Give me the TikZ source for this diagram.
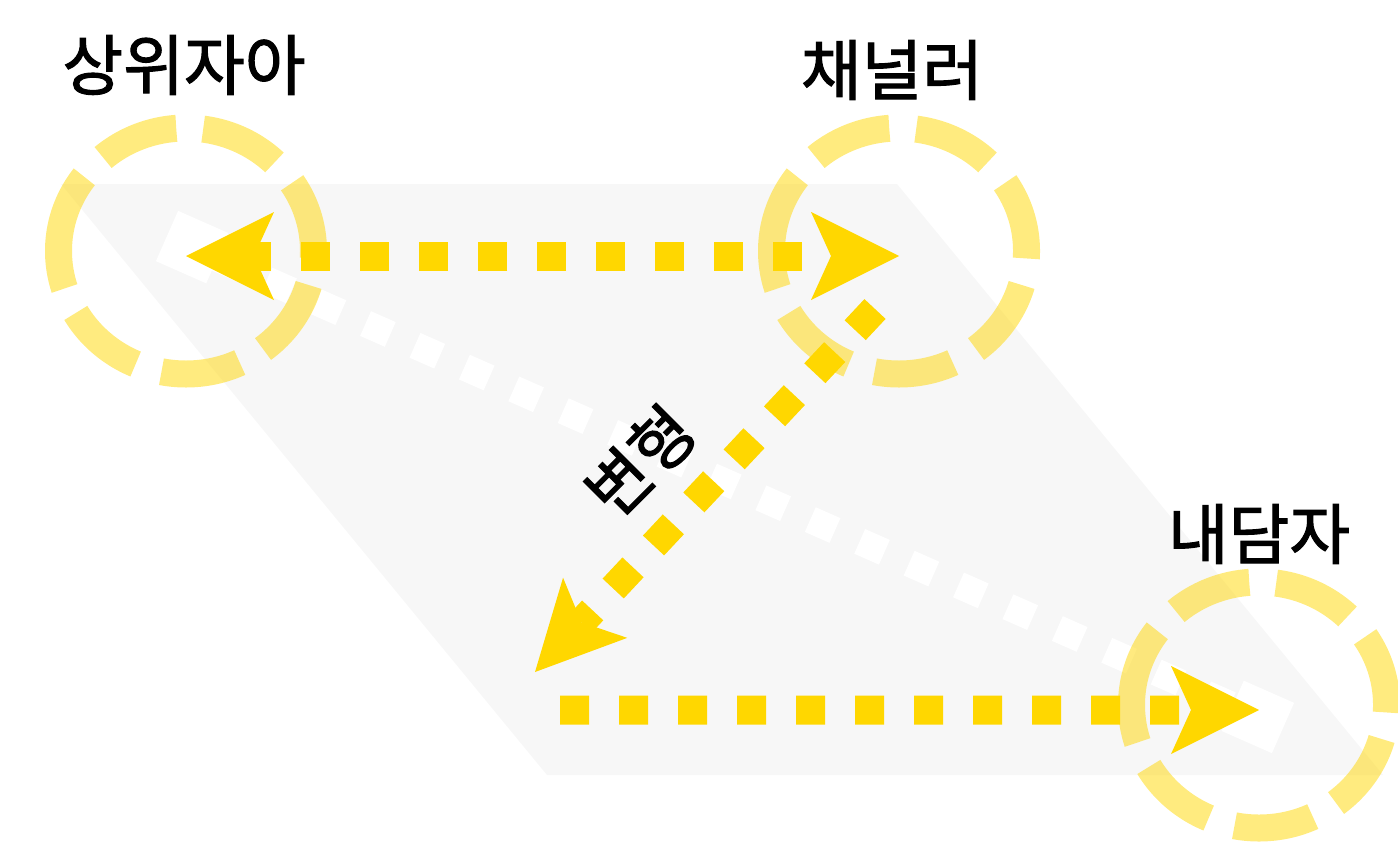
\documentclass[tikz,border=0pt]{standalone}
\usepackage{fontspec}
\setmainfont{Noto Sans CJK KR}
\newfontfamily\rolefont{Noto Sans CJK KR}[FakeBold=1.6]
\usetikzlibrary{positioning,arrows.meta,shapes.geometric,backgrounds}

\definecolor{flowgold}{HTML}{FFD700}
\definecolor{plane}{HTML}{F7F7F7}
\tikzstyle{ring} = [ellipse, minimum width=2.55cm, minimum height=2.46cm,
inner sep=0pt, draw=flowgold, draw opacity=0.5, line width=0.27cm,
dash pattern=on 0.8cm off 0.27cm, xscale=-1]
\tikzstyle{role} = [font=\fontsize{18.8pt}{22pt}\rolefont, inner sep=0pt]
\tikzstyle{flow} = [draw=flowgold, line width=0.29cm, dash pattern=on 0.29cm off 0.3cm,
-{Stealth[length=0.88cm 0, width=0.88cm 0, inset=0.2cm 0, line width=0pt]}]
\tikzstyle{duoflow} = [flow, dash phase=0.3cm, {Stealth[length=0.88cm 0, width=0.88cm 0,
inset=0.2cm 0, line width=0pt]}-{Stealth[length=0.88cm 0, width=0.88cm 0, inset=0.2cm 0,
line width=0pt]}]
\tikzstyle{link} = [draw=white, line width=0.27cm, dash pattern=on 0.27cm off 0.27cm,
{Square[length=0.55cm 0, width=0.55cm 0, line width=0pt]}-{Square[length=0.55cm 0,
width=0.55cm 0, line width=0pt]}]

\begin{document}
\begin{tikzpicture}
    \useasboundingbox (0,0) rectangle (13.98,8.45);
    % Rings
    \node (upper) [ring] at (1.86,5.94) {};
    \node (channel) [right of=upper, xshift=6.13cm, ring] {};
    \node (client) [below of=channel, yshift=-3.54cm, xshift=3.6cm, ring] {};
    % Names
    \node (upperlbl) [role, above of=upper, yshift=0.86cm, xshift=-0.02cm] {상위자아};
    \node (channellbl) [role, above of=channel, yshift=0.81cm, xshift=-0.07cm] {채널러};
    \node (clientlbl) [role, above of=client, yshift=0.71cm] {내담자};
    \node (change) [role, rotate=45] at (6.40,3.84) {변형};
    % Turning points
    \coordinate (turn) at (8.75,5.36);
    \coordinate (bend) at (5.35,1.73);
    \coordinate (base) at (5.60,1.35);
    \begin{scope}[on background layer]
        \fill [plane] (0.61,6.61) -- (8.97,6.61) -- (13.83,0.70) -- (5.47,0.70) -- cycle;
        \draw [link] ([shift={(-0.19,0.15)}]upper.center) -- ([shift={(0.24,-0.23)}]client.center);
        \draw [duoflow] ([yshift=-0.05cm]channel.center) -- ([yshift=-0.05cm]upper.center);
        \draw [flow] (turn) -- (bend);
        \draw [flow] (base) -- ([yshift=-0.05cm]client.center);
    \end{scope}
\end{tikzpicture}
\end{document}
